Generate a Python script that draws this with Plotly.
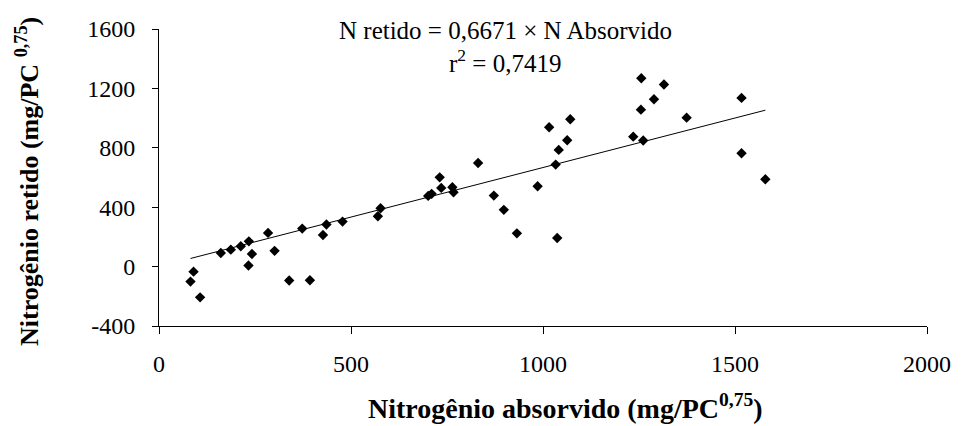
import numpy as np
import plotly.graph_objects as go

# Data
n_absorvido = [90, 82, 107, 161, 187, 213, 234, 242, 233, 284, 301, 339, 373, 393, 436, 427,
               478, 577, 570, 701, 710, 731, 735, 764, 767,
               831, 872, 898, 932, 986, 1016, 1033, 1037, 1041, 1063, 1071,
               1256, 1315, 1289, 1255, 1374, 1235, 1261, 1517, 1517, 1579]
n_retido = [-34, -101, -207, 92, 114, 137, 170, 85, 7, 227, 106, -94, 256, -92, 283, 213,
            303, 393, 339, 476, 490, 601, 530, 534, 500,
            698, 478, 382, 224, 541, 938, 687, 193, 786, 851, 992,
            1268, 1226, 1127, 1057, 1003, 875, 849, 1136, 763, 588]
slope = 0.6671
r2 = 0.7419

x_ticks = [0, 500, 1000, 1500, 2000]
y_ticks = [-400, 0, 400, 800, 1200, 1600]

x_title = "<b>Nitrogênio absorvido (mg/PC<sup>0,75</sup>)</b>"
y_title = "<b>Nitrogênio retido (mg/PC <sup>0,75</sup>)</b>"

FONT = "Liberation Serif"

trend_x = np.array([min(n_absorvido), max(n_absorvido)])
trend_y = slope * trend_x

fig = go.Figure()
fig.add_trace(go.Scatter(
    x=trend_x, y=trend_y, mode="lines",
    line=dict(color="black", width=1), hoverinfo="skip", showlegend=False))
fig.add_trace(go.Scatter(
    x=n_absorvido, y=n_retido, mode="markers",
    marker=dict(symbol="diamond", size=8, color="black", line=dict(width=0)),
    showlegend=False))

fig.add_annotation(x=902, y=1590, xref="x", yref="y", showarrow=False,
                   text="N retido = 0,6671 × N Absorvido",
                   font=dict(family=FONT, size=25, color="black"))
fig.add_annotation(x=902, y=1385, xref="x", yref="y", showarrow=False,
                   text="r<sup>2</sup> = 0,7419",
                   font=dict(family=FONT, size=25, color="black"))

# axis titles
fig.add_annotation(x=0.5296, y=-0.272, xref="paper", yref="paper", showarrow=False,
                   xanchor="center", yanchor="middle", text=x_title,
                   font=dict(family=FONT, size=28, color="black"))
fig.add_annotation(x=-0.172, y=0.488, xref="paper", yref="paper", showarrow=False,
                   xanchor="center", yanchor="middle", textangle=-90, text=y_title,
                   font=dict(family=FONT, size=26, color="black"))

fig.update_layout(
    width=963, height=426,
    margin=dict(l=159, r=26, t=29, b=100),
    paper_bgcolor="white", plot_bgcolor="white",
    font=dict(family=FONT, size=22, color="black"),
    showlegend=False,
)
fig.update_xaxes(
    range=[0, 2000], tickvals=x_ticks, ticktext=[str(v) for v in x_ticks],
    showgrid=False, zeroline=False, showline=True, linecolor="black", linewidth=1,
    ticks="outside", ticklen=7, tickcolor="black", tickwidth=1,
    ticklabelstandoff=9,
    tickfont=dict(family=FONT, size=24, color="black"),
)
fig.update_yaxes(
    range=[-400, 1600], tickvals=y_ticks, ticktext=[str(v) for v in y_ticks],
    showgrid=False, zeroline=False, showline=True, linecolor="black", linewidth=1,
    ticks="outside", ticklen=6, tickcolor="black", tickwidth=1,
    ticklabelstandoff=12,
    tickfont=dict(family=FONT, size=24, color="black"),
)

fig.write_html("out.html")
